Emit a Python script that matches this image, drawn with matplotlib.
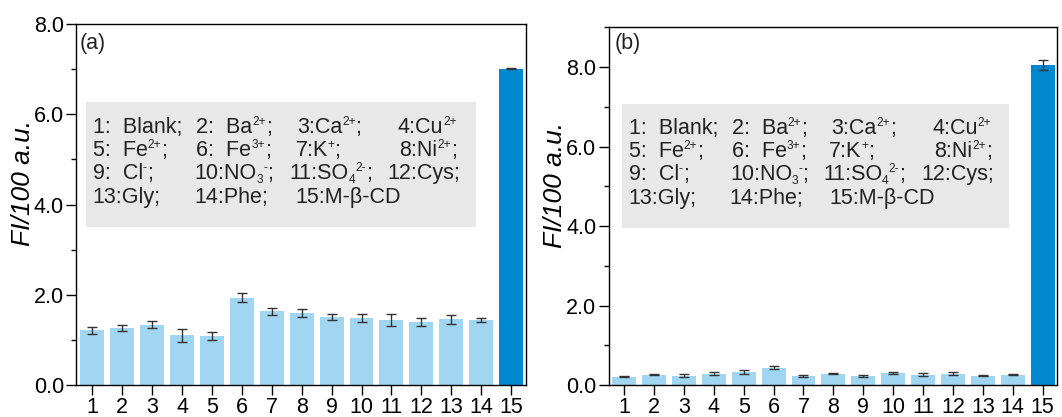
import re
import matplotlib
matplotlib.use("Agg")
import matplotlib.pyplot as plt
from matplotlib.ticker import MultipleLocator, FormatStrFormatter
from matplotlib.transforms import offset_copy

plt.rcParams['font.family'] = ['Liberation Sans', 'DejaVu Sans']

categories = list(range(1, 16))
tick_labels = [str(c) for c in categories]

values_a = [1.21, 1.27, 1.34, 1.10, 1.08, 1.93, 1.63, 1.59, 1.51, 1.48, 1.44, 1.40, 1.46, 1.44, 7.01]
errors_a = [0.085, 0.07, 0.07, 0.14, 0.09, 0.10, 0.085, 0.09, 0.07, 0.09, 0.14, 0.09, 0.10, 0.045, 0.01]

values_b = [0.21, 0.26, 0.23, 0.28, 0.32, 0.44, 0.23, 0.28, 0.22, 0.31, 0.26, 0.28, 0.23, 0.26, 8.05]
errors_b = [0.02, 0.01, 0.04, 0.04, 0.05, 0.04, 0.03, 0.01, 0.03, 0.03, 0.04, 0.04, 0.01, 0.01, 0.12]

# ^{..} = superscript, _{..} = subscript
legend_rows = [
    ["1:  Blank;", "2:  Ba^{2+};", "3:Ca^{2+};", "4:Cu^{2+}"],
    ["5:  Fe^{2+};", "6:  Fe^{3+};", "7:K^{+};", "8:Ni^{2+};"],
    ["9:  Cl^{-};", "10:NO_{3}^{-};", "11:SO_{4}^{2-};", "12:Cys;"],
    ["13:Gly;", "14:Phe;", "15:M-β-CD"],
]

light = '#a0d6f2'
dark = '#0088d0'
FS = 15.5

fig = plt.figure(figsize=(10.62, 4.17), dpi=100)
ax_a = fig.add_axes([0.0720, 0.0767, 0.4233, 0.8657])
ax_b = fig.add_axes([0.5734, 0.0767, 0.4218, 0.8578])
renderer = fig.canvas.get_renderer()

layout_a = dict(
    cols=[[0.036, 0.266, 0.490, 0.714],
          [0.036, 0.267, 0.487, 0.718],
          [0.036, 0.263, 0.474, 0.691],
          [0.036, 0.263, 0.487]],
    rows=[0.699, 0.635, 0.570, 0.504],
    box=(0.021, 0.439, 0.867, 0.345),
    lab=(0.006, 0.947),
)
layout_b = dict(
    cols=[[0.044, 0.274, 0.496, 0.722],
          [0.044, 0.274, 0.492, 0.726],
          [0.044, 0.270, 0.478, 0.697],
          [0.044, 0.268, 0.492]],
    rows=[0.703, 0.638, 0.573, 0.505],
    box=(0.029, 0.440, 0.865, 0.347),
    lab=(0.012, 0.954),
)


def parse(s):
    parts = []
    for m in re.finditer(r'\^\{([^}]*)\}|_\{([^}]*)\}|([^\^_]+)', s):
        if m.group(1) is not None:
            parts.append((m.group(1), 'sup'))
        elif m.group(2) is not None:
            parts.append((m.group(2), 'sub'))
        else:
            parts.append((m.group(3), 'n'))
    return parts


def rich_text(ax, x, y, s, fs):
    dx = 0.0
    for txt, kind in parse(s):
        if kind == 'n':
            size, dy = fs, 0.0
        elif kind == 'sup':
            size, dy = fs * 0.55, fs * 0.36
        else:
            size, dy = fs * 0.55, -fs * 0.17
        tr = offset_copy(ax.transAxes, fig=fig, x=dx, y=dy, units='points')
        t = ax.text(x, y, txt, transform=tr, fontsize=size, va='baseline',
                    ha='left', color='#222222', zorder=4)
        w = t.get_window_extent(renderer=renderer).width * 72.0 / fig.dpi
        dx += w


def draw(ax, vals, errs, ymax, xlim, label, lay):
    colors = [light] * 14 + [dark]
    ax.bar(categories, vals, width=0.8, color=colors, zorder=2)
    ax.errorbar(categories, vals, yerr=errs, fmt='none', ecolor='#333333',
                elinewidth=1.0, capsize=3.5, capthick=1.0, zorder=3)
    ax.set_xlim(*xlim)
    ax.set_ylim(0, ymax)
    ax.set_xticks(categories)
    ax.set_xticklabels(tick_labels)
    ax.yaxis.set_major_locator(MultipleLocator(2))
    ax.yaxis.set_minor_locator(MultipleLocator(1))
    ax.yaxis.set_major_formatter(FormatStrFormatter('%.1f'))
    ax.tick_params(axis='both', which='major', labelsize=15.5, length=7, width=1, direction='out')
    ax.tick_params(axis='y', which='minor', length=3.5, width=1, direction='out')
    ax.tick_params(axis='x', pad=1.5)
    ax.tick_params(axis='y', pad=2)
    ax.set_ylabel('FI/100 a.u.', fontsize=19, style='italic')
    ax.yaxis.set_label_coords(-0.093, 0.56)
    for s in ax.spines.values():
        s.set_linewidth(1.0)
        s.set_color('black')
    ax.text(lay['lab'][0], lay['lab'][1], label, transform=ax.transAxes,
            fontsize=15.5, va='center', ha='left', color='#222222')
    bx, by, bw, bh = lay['box']
    ax.add_patch(plt.Rectangle((bx, by), bw, bh, transform=ax.transAxes,
                               facecolor='#e8e8e8', edgecolor='none', zorder=1))
    for r, row in enumerate(legend_rows):
        for c, t in enumerate(row):
            rich_text(ax, lay['cols'][r][c], lay['rows'][r], t, FS)


draw(ax_a, values_a, errors_a, 8.0, (0.47, 15.5), '(a)', layout_a)
draw(ax_b, values_b, errors_b, 9.0, (0.49, 15.48), '(b)', layout_b)

fig.savefig('out.png', dpi=100)
